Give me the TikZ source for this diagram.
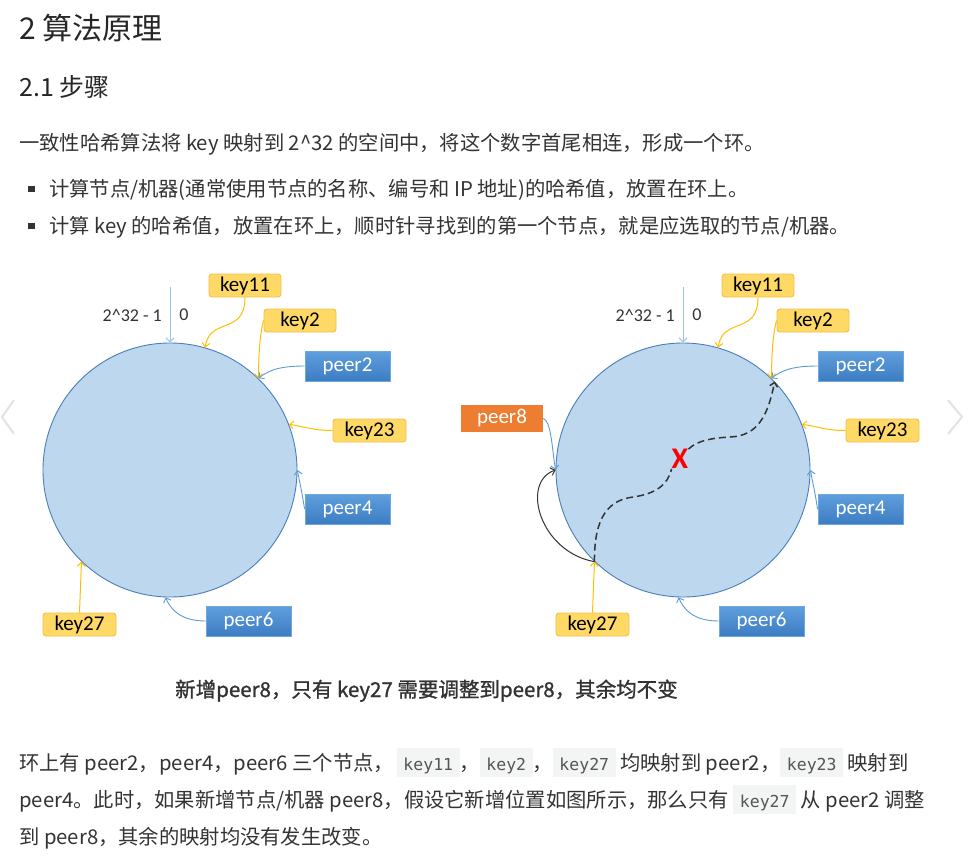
\documentclass[tikz,border=0pt]{standalone}
\usepackage{fontspec}
\setmainfont{Noto Sans CJK SC}
\newfontfamily\labelfont{Carlito}
\newfontfamily\codefont{DejaVu Sans Mono}
\newfontfamily\capfont[FakeBold=1.2]{Noto Sans CJK SC}
\usepackage{tikz}
\usetikzlibrary{arrows.meta, positioning, shapes.geometric}

\definecolor{ringfill}{HTML}{BDD7EE}
\definecolor{ringline}{HTML}{4A7EBB}
\definecolor{keyfill}{HTML}{FFD966}
\definecolor{keydraw}{HTML}{F5BE4A}
\definecolor{keyline}{HTML}{FFC000}
\definecolor{peertop}{HTML}{5F9FDD}
\definecolor{peerbot}{HTML}{3C7CC2}
\definecolor{peerdraw}{HTML}{6FA8DC}
\definecolor{peerline}{HTML}{5B9BD5}
\definecolor{topline}{HTML}{9DC3E6}
\definecolor{newpeer}{HTML}{ED7D31}
\definecolor{bodytext}{HTML}{333333}
\definecolor{codebg}{HTML}{F3F4F4}
\definecolor{codefg}{HTML}{555555}
\definecolor{navgray}{HTML}{E2E2E2}

\newcommand{\codespan}[1]{{\setlength{\fboxsep}{0pt}\colorbox{codebg}{\rule[-7pt]{0pt}{29pt}\hspace{6.5pt}{\codefont\fontsize{16.5pt}{18pt}\selectfont\color{codefg}#1}\hspace{6.5pt}}}}

\tikzset{
  ring/.style={circle, draw=ringline, fill=ringfill, line width=0.9pt, minimum size=254pt, inner sep=0pt},
  keybox/.style={draw=keydraw, fill=keyfill, rounded corners=3pt, line width=0.9pt, minimum width=72pt, minimum height=23pt, inner sep=0pt, font=\labelfont\fontsize{21pt}{22pt}\selectfont, text=black},
  peerbox/.style={draw=peerdraw, top color=peertop, bottom color=peerbot, line width=0.9pt, minimum width=85pt, minimum height=30pt, inner sep=0pt, font=\labelfont\fontsize{21pt}{22pt}\selectfont, text=white},
  newbox/.style={fill=newpeer, minimum width=82pt, minimum height=27pt, inner sep=0pt, font=\labelfont\fontsize{21pt}{22pt}\selectfont, text=white},
  numtext/.style={inner sep=0pt, font=\labelfont\fontsize{18pt}{20pt}\selectfont, text=bodytext},
  keylink/.style={draw=keyline, line width=1pt, -{Straight Barb[length=4pt,width=8pt]}},
  peerlink/.style={draw=peerline, line width=0.9pt, -{Straight Barb[length=4pt,width=8pt]}},
  toplink/.style={draw=topline, line width=1pt, -{Straight Barb[length=4pt,width=8pt]}},
  movelink/.style={draw=black!80, line width=1pt, -{Straight Barb[length=4pt,width=8pt]}},
  dashlink/.style={draw=black!80, line width=1.5pt, dash pattern=on 7pt off 4pt},
  cross/.style={inner sep=0pt, text=red, font=\labelfont\bfseries\fontsize{30pt}{30pt}\selectfont},
  title/.style={anchor=base west, inner sep=0pt, text=black!85, font=\fontsize{30pt}{34pt}\selectfont},
  subtitle/.style={anchor=base west, inner sep=0pt, text=black!85, font=\fontsize{25pt}{28pt}\selectfont},
  body/.style={anchor=base west, inner sep=0pt, text=bodytext, font=\fontsize{20.3pt}{24pt}\selectfont},
  bullet/.style={rectangle, fill=bodytext, minimum size=6.5pt, inner sep=0pt},
  chevron/.style={draw=navgray, line width=2pt},
}

\begin{document}
\begin{tikzpicture}[x=1pt, y=-1pt]
\useasboundingbox (0,0) rectangle (975,863);

% headings and intro
\node[title] (title) at (19,39) {2 算法原理};
\node[subtitle] (subtitle) at (19,96) {2.1 步骤};
\node[body] (intro) at (19,150) {一致性哈希算法将 key 映射到 2\textasciicircum32 的空间中，将这个数字首尾相连，形成一个环。};
\node[bullet] (dot1) at (31.5,189) {};
\node[body] (item1) at (49,196) {计算节点/机器(通常使用节点的名称、编号和 IP 地址)的哈希值，放置在环上。};
\node[bullet] (dot2) at (31.5,226) {};
\node[body] (item2) at (49,233) {计算 key 的哈希值，放置在环上，顺时针寻找到的第一个节点，就是应选取的节点/机器。};

% left ring
\begin{scope}
\node[ring] (L-ring) at (170,470) {};
\coordinate (L-top) at (170,287);
\node[numtext, anchor=east] (L-max) at (162,315) {2\textasciicircum32 - 1};
\node[numtext] (L-zero) at (184,315) {0};
\node[keybox] (L-key11) at (245,285.5) {key11};
\node[keybox] (L-key2) at (300,320.5) {key2};
\node[peerbox] (L-peer2) at (347.5,366) {peer2};
\node[keybox, minimum width=73pt] (L-key23) at (369.5,430.5) {key23};
\node[peerbox] (L-peer4) at (347.5,509) {peer4};
\node[peerbox] (L-peer6) at (248.5,621) {peer6};
\node[keybox, minimum width=73pt] (L-key27) at (79.5,624.5) {key27};
\draw[toplink] (L-top) -- (L-ring.90);
\draw[keylink] (L-key11.south) .. controls +(0,38) and +(5,-31) .. (L-ring.74);
\draw[keylink] (L-key2.west) .. controls +(-4,15) and +(0,-20) .. (L-ring.46);
\draw[peerlink] (L-peer2.west) .. controls +(-25,0) and +(10,-8) .. (L-ring.46);
\draw[keylink] (L-key23.west) .. controls +(-20,0) and +(15,2) .. (L-ring.21);
\draw[peerlink] (L-peer4.west) .. controls +(-3,-20) and +(2,12) .. (L-ring.0);
\draw[peerlink] (L-peer6.west) .. controls +(-25,0) and +(5,12) .. (L-ring.268);
\draw[keylink] (L-key27.north) -- (L-ring.226);
\end{scope}

% right ring, peer8 added
\begin{scope}[xshift=513pt]
\node[ring] (R-ring) at (170,470) {};
\coordinate (R-top) at (170,287);
\node[numtext, anchor=east] (R-max) at (162,315) {2\textasciicircum32 - 1};
\node[numtext] (R-zero) at (184,315) {0};
\node[keybox] (R-key11) at (245,285.5) {key11};
\node[keybox] (R-key2) at (300,320.5) {key2};
\node[peerbox] (R-peer2) at (347.5,366) {peer2};
\node[keybox, minimum width=73pt] (R-key23) at (369.5,430.5) {key23};
\node[peerbox] (R-peer4) at (347.5,509) {peer4};
\node[peerbox] (R-peer6) at (248.5,621) {peer6};
\node[keybox, minimum width=73pt] (R-key27) at (79.5,624.5) {key27};
\node[newbox] (R-peer8) at (-11,418.5) {peer8};
\node[cross] (R-cross) at (167,459) {X};
\draw[toplink] (R-top) -- (R-ring.90);
\draw[keylink] (R-key11.south) .. controls +(0,38) and +(5,-31) .. (R-ring.74);
\draw[keylink] (R-key2.west) .. controls +(-4,15) and +(0,-20) .. (R-ring.46);
\draw[peerlink] (R-peer2.west) .. controls +(-25,0) and +(10,-8) .. (R-ring.46);
\draw[keylink] (R-key23.west) .. controls +(-20,0) and +(15,2) .. (R-ring.21);
\draw[peerlink] (R-peer4.west) .. controls +(-3,-20) and +(2,12) .. (R-ring.0);
\draw[peerlink] (R-peer6.west) .. controls +(-25,0) and +(5,12) .. (R-ring.268);
\draw[keylink] (R-key27.north) -- (R-ring.226);
\draw[peerlink] (R-peer8.east) .. controls +(8,3) and +(-4,-25) .. (R-ring.180);
\draw[movelink] (R-ring.226) .. controls +(-55,-10) and +(-35,12) .. (R-ring.180);
\draw[dashlink] (R-ring.226) .. controls (81,515) and (97,500) .. (120,497) .. controls (142,494) and (155,485) .. (R-cross.south west);
\draw[dashlink, -{Straight Barb[length=4pt,width=8pt]}] (R-cross.north east) .. controls (185,440) and (200,438) .. (217,437) .. controls (245,436) and (255,415) .. (R-ring.44);
\end{scope}

% page arrows
\draw[chevron] (14,400) -- (2,417) -- (14,434);
\draw[chevron] (948,400) -- (962,417) -- (948,434);

% caption and text below
\node[body, font=\capfont\fontsize{20.5pt}{24pt}\selectfont] (caption) at (175,697) {新增peer8，只有 key27 需要调整到peer8，其余均不变};
\node[body] (line1) at (19,770) {环上有 peer2，peer4，peer6 三个节点，\hspace{3pt}\codespan{key11}，\codespan{key2}，\codespan{key27} 均映射到 peer2，\codespan{key23} 映射到};
\node[body] (line2) at (19,807) {peer4。此时，如果新增节点/机器 peer8，假设它新增位置如图所示，那么只有 \codespan{key27} 从 peer2 调整};
\node[body] (line3) at (19,844) {到 peer8，其余的映射均没有发生改变。};
\end{tikzpicture}
\end{document}
